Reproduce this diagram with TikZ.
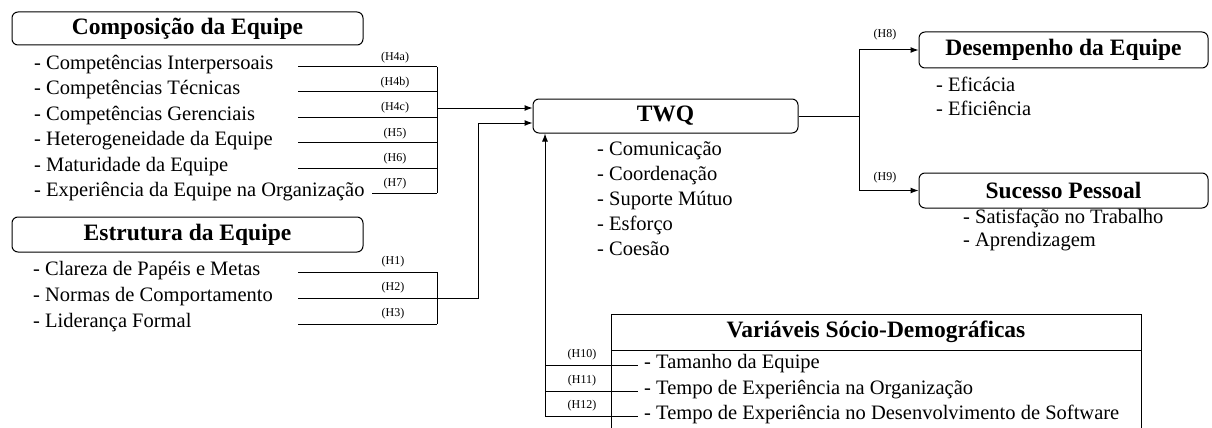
\documentclass[tikz,border=0pt]{standalone}
\usepackage{fontspec}
\setmainfont{Liberation Serif}
\usetikzlibrary{arrows.meta}
\newcommand\ttlfont{\fontsize{23.5}{28}\selectfont\bfseries}
\newcommand\itmfont{\fontsize{20.5}{24}\selectfont}
\newcommand\labfont{\fontsize{12}{14}\selectfont}
\begin{document}
\begin{tikzpicture}[x=1pt,y=-1pt,
  box/.style={draw, line width=1pt, rounded corners=6pt, inner sep=0pt, font=\ttlfont},
  item/.style={anchor=base west, inner sep=0pt, font=\itmfont},
  hlab/.style={inner sep=0pt, font=\labfont},
  conn/.style={line width=1pt},
  arr/.style={conn, -{Latex[length=8pt,width=6pt]}}]
\useasboundingbox (0,0) rectangle (1212,428);
\clip (0,0) rectangle (1212,428);
\fill[white] (0,0) rectangle (1212,428);

% ---- boxes
\node[box, minimum width=351pt, minimum height=33pt] (comp) at (187.5,28.5) {Composição da Equipe};
\node[box, minimum width=351pt, minimum height=35pt] (estr) at (187.5,234.5) {Estrutura da Equipe};
\node[box, minimum width=265pt, minimum height=34pt] (twq) at (665.5,116) {TWQ};
\node[box, minimum width=289pt, minimum height=36pt] (desemp) at (1063.5,50) {Desempenho da Equipe};
\node[box, minimum width=289pt, minimum height=35pt] (suc) at (1063.5,190.5) {Sucesso Pessoal};

% ---- Composição items
\node[item] (c1) at (34,70) {- Competências Interpersoais};
\node[item] (c2) at (34,94.5) {- Competências Técnicas};
\node[item] (c3) at (34,120) {- Competências Gerenciais};
\node[item] (c4) at (34,145.5) {- Heterogeneidade da Equipe};
\node[item] (c5) at (34,171) {- Maturidade da Equipe};
\node[item] (c6) at (34,196) {- Experiência da Equipe na Organização};

\coordinate (s1) at (298,67);   \coordinate (j1) at (437,67);
\coordinate (s2) at (298,91.5); \coordinate (j2) at (437,91.5);
\coordinate (s3) at (298,117);  \coordinate (j3) at (437,117);
\coordinate (s4) at (298,142.5);\coordinate (j4) at (437,142.5);
\coordinate (s5) at (298,168);  \coordinate (j5) at (437,168);
\coordinate (s6) at (372,193);  \coordinate (j6) at (437,193);
\draw[conn] (s1) -- (j1) (s2) -- (j2) (s3) -- (j3) (s4) -- (j4) (s5) -- (j5) (s6) -- (j6);
\draw[conn] (j1) -- (j6);
\coordinate (jc) at (437,108);
\draw[arr] (jc) -- (jc -| twq.west);

\node[hlab] (h4a) at (395,58) {(H4a)};
\node[hlab] (h4b) at (395,82.5) {(H4b)};
\node[hlab] (h4c) at (395,108) {(H4c)};
\node[hlab] (h5) at (395,133.5) {(H5)};
\node[hlab] (h6) at (395,159) {(H6)};
\node[hlab] (h7) at (395,184) {(H7)};

% ---- Estrutura items
\node[item] (e1) at (33,275) {- Clareza de Papéis e Metas};
\node[item] (e2) at (33,301) {- Normas de Comportamento};
\node[item] (e3) at (33,327) {- Liderança Formal};

\coordinate (t1) at (298,272); \coordinate (k1) at (437,272);
\coordinate (t2) at (298,298); \coordinate (k2) at (478,298);
\coordinate (t3) at (298,324); \coordinate (k3) at (437,324);
\coordinate (ku) at (478,123);
\draw[conn] (t1) -- (k1) (t3) -- (k3) (k1) -- (k3);
\draw[arr] (t2) -- (k2) -- (ku) -- (ku -| twq.west);

\node[hlab] (h1) at (393,262) {(H1)};
\node[hlab] (h2) at (393,288) {(H2)};
\node[hlab] (h3) at (393,314) {(H3)};

% ---- TWQ items
\node[item] (w1) at (597,155) {- Comunicação};
\node[item] (w2) at (597,180) {- Coordenação};
\node[item] (w3) at (597,205) {- Suporte Mútuo};
\node[item] (w4) at (597,230) {- Esforço};
\node[item] (w5) at (597,255) {- Coesão};

% ---- outputs
\node[item] (d1) at (936,91) {- Eficácia};
\node[item] (d2) at (936,115) {- Eficiência};
\node[item] (p1) at (963,223) {- Satisfação no Trabalho};
\node[item] (p2) at (963,246) {- Aprendizagem};

\coordinate (rj) at (859,116);
\draw[conn] (twq.east) -- (rj);
\draw[arr] (rj) |- (desemp.west);
\draw[arr] (rj) |- (suc.west);
\node[hlab] (h8) at (885,35) {(H8)};
\node[hlab] (h9) at (885,178) {(H9)};

% ---- Variáveis Sócio-Demográficas
\draw[conn] (611,430) -- (611,314) -- (1141,314) -- (1141,430);
\draw[conn] (611,350) -- (1141,350);
\node[inner sep=0pt, font=\ttlfont] (vsd) at (876,332) {Variáveis Sócio-Demográficas};
\node[item] (v1) at (644,368) {- Tamanho da Equipe};
\node[item] (v2) at (644,394) {- Tempo de Experiência na Organização};
\node[item] (v3) at (644,419) {- Tempo de Experiência no Desenvolvimento de Software};

\coordinate (b1) at (545,365); \coordinate (u1) at (638,365);
\coordinate (b2) at (545,391); \coordinate (u2) at (638,391);
\coordinate (b3) at (545,416); \coordinate (u3) at (638,416);
\draw[conn] (b1) -- (u1) (b2) -- (u2) (b3) -- (u3);
\draw[arr] (b3) -- (b3 |- twq.south);

\node[hlab] (h10) at (582,355) {(H10)};
\node[hlab] (h11) at (582,381) {(H11)};
\node[hlab] (h12) at (582,406) {(H12)};
\end{tikzpicture}
\end{document}
